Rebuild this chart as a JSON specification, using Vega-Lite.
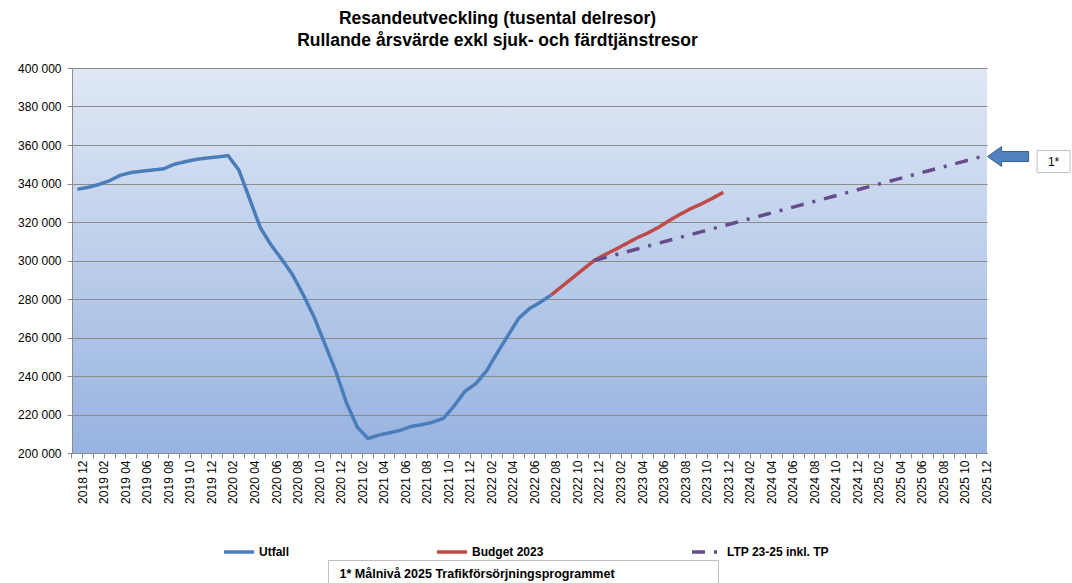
{
  "$schema": "https://vega.github.io/schema/vega-lite/v6.json",
  "width": 915,
  "height": 385,
  "autosize": {"type": "none"},
  "padding": {"left": 72, "top": 68, "right": 85, "bottom": 130},
  "background": "white",
  "title": {
    "text": ["Resandeutveckling (tusental delresor)", "Rullande årsvärde exkl sjuk- och färdtjänstresor"],
    "font": "Liberation Sans",
    "fontSize": 17.5,
    "fontWeight": "bold",
    "color": "#000000",
    "anchor": "middle",
    "dx": -32,
    "offset": 13,
    "lineHeight": 22
  },
  "config": {
    "font": "Liberation Sans",
    "view": {
      "stroke": null,
      "fill": {
        "gradient": "linear",
        "x1": 0, "y1": 0, "x2": 0, "y2": 1,
        "stops": [
          {"offset": 0, "color": "#e0e8f5"},
          {"offset": 1, "color": "#97b3e0"}
        ]
      }
    },
    "axis": {
      "labelFont": "Liberation Sans",
      "labelFontSize": 12,
      "labelColor": "#000000",
      "domainColor": "#8c8c8c",
      "tickColor": "#8c8c8c",
      "gridColor": "#8c8c8c",
      "gridWidth": 1.2,
      "tickSize": 5
    }
  },
  "datasets": {
    "lines": [
      {"month": "2018 12", "series": "Utfall", "value": 337000},
      {"month": "2019 01", "series": "Utfall", "value": 338000},
      {"month": "2019 02", "series": "Utfall", "value": 339500},
      {"month": "2019 03", "series": "Utfall", "value": 341500},
      {"month": "2019 04", "series": "Utfall", "value": 344300},
      {"month": "2019 05", "series": "Utfall", "value": 345700},
      {"month": "2019 06", "series": "Utfall", "value": 346400},
      {"month": "2019 07", "series": "Utfall", "value": 347000},
      {"month": "2019 08", "series": "Utfall", "value": 347600},
      {"month": "2019 09", "series": "Utfall", "value": 350000},
      {"month": "2019 10", "series": "Utfall", "value": 351300},
      {"month": "2019 11", "series": "Utfall", "value": 352500},
      {"month": "2019 12", "series": "Utfall", "value": 353200},
      {"month": "2020 01", "series": "Utfall", "value": 353800},
      {"month": "2020 02", "series": "Utfall", "value": 354500},
      {"month": "2020 03", "series": "Utfall", "value": 347000},
      {"month": "2020 04", "series": "Utfall", "value": 332000},
      {"month": "2020 05", "series": "Utfall", "value": 317000},
      {"month": "2020 06", "series": "Utfall", "value": 308000},
      {"month": "2020 07", "series": "Utfall", "value": 300500},
      {"month": "2020 08", "series": "Utfall", "value": 292500},
      {"month": "2020 09", "series": "Utfall", "value": 282000},
      {"month": "2020 10", "series": "Utfall", "value": 270500},
      {"month": "2020 11", "series": "Utfall", "value": 256500},
      {"month": "2020 12", "series": "Utfall", "value": 242500},
      {"month": "2021 01", "series": "Utfall", "value": 226000},
      {"month": "2021 02", "series": "Utfall", "value": 213500},
      {"month": "2021 03", "series": "Utfall", "value": 207500},
      {"month": "2021 04", "series": "Utfall", "value": 209300},
      {"month": "2021 05", "series": "Utfall", "value": 210500},
      {"month": "2021 06", "series": "Utfall", "value": 211800},
      {"month": "2021 07", "series": "Utfall", "value": 213800},
      {"month": "2021 08", "series": "Utfall", "value": 214700},
      {"month": "2021 09", "series": "Utfall", "value": 216000},
      {"month": "2021 10", "series": "Utfall", "value": 218000},
      {"month": "2021 11", "series": "Utfall", "value": 224500},
      {"month": "2021 12", "series": "Utfall", "value": 232000},
      {"month": "2022 01", "series": "Utfall", "value": 236000},
      {"month": "2022 02", "series": "Utfall", "value": 242500},
      {"month": "2022 03", "series": "Utfall", "value": 252000},
      {"month": "2022 04", "series": "Utfall", "value": 261000},
      {"month": "2022 05", "series": "Utfall", "value": 270000},
      {"month": "2022 06", "series": "Utfall", "value": 275000},
      {"month": "2022 07", "series": "Utfall", "value": 278300},
      {"month": "2022 08", "series": "Utfall", "value": 282000},
      {"month": "2022 08", "series": "Budget 2023", "value": 282000},
      {"month": "2022 09", "series": "Budget 2023", "value": 286500},
      {"month": "2022 10", "series": "Budget 2023", "value": 291000},
      {"month": "2022 11", "series": "Budget 2023", "value": 295500},
      {"month": "2022 12", "series": "Budget 2023", "value": 300000},
      {"month": "2023 01", "series": "Budget 2023", "value": 303000},
      {"month": "2023 02", "series": "Budget 2023", "value": 305800},
      {"month": "2023 03", "series": "Budget 2023", "value": 308800},
      {"month": "2023 04", "series": "Budget 2023", "value": 311800},
      {"month": "2023 05", "series": "Budget 2023", "value": 314300},
      {"month": "2023 06", "series": "Budget 2023", "value": 317300},
      {"month": "2023 07", "series": "Budget 2023", "value": 320800},
      {"month": "2023 08", "series": "Budget 2023", "value": 324000},
      {"month": "2023 09", "series": "Budget 2023", "value": 327000},
      {"month": "2023 10", "series": "Budget 2023", "value": 329500},
      {"month": "2023 11", "series": "Budget 2023", "value": 332300},
      {"month": "2023 12", "series": "Budget 2023", "value": 335500},
      {"month": "2022 12", "series": "LTP 23-25 inkl. TP", "value": 300000},
      {"month": "2023 01", "series": "LTP 23-25 inkl. TP", "value": 301500},
      {"month": "2023 02", "series": "LTP 23-25 inkl. TP", "value": 303000},
      {"month": "2023 03", "series": "LTP 23-25 inkl. TP", "value": 304500},
      {"month": "2023 04", "series": "LTP 23-25 inkl. TP", "value": 306000},
      {"month": "2023 05", "series": "LTP 23-25 inkl. TP", "value": 307500},
      {"month": "2023 06", "series": "LTP 23-25 inkl. TP", "value": 309000},
      {"month": "2023 07", "series": "LTP 23-25 inkl. TP", "value": 310500},
      {"month": "2023 08", "series": "LTP 23-25 inkl. TP", "value": 312000},
      {"month": "2023 09", "series": "LTP 23-25 inkl. TP", "value": 313500},
      {"month": "2023 10", "series": "LTP 23-25 inkl. TP", "value": 315000},
      {"month": "2023 11", "series": "LTP 23-25 inkl. TP", "value": 316500},
      {"month": "2023 12", "series": "LTP 23-25 inkl. TP", "value": 318000},
      {"month": "2024 01", "series": "LTP 23-25 inkl. TP", "value": 319500},
      {"month": "2024 02", "series": "LTP 23-25 inkl. TP", "value": 321000},
      {"month": "2024 03", "series": "LTP 23-25 inkl. TP", "value": 322500},
      {"month": "2024 04", "series": "LTP 23-25 inkl. TP", "value": 324000},
      {"month": "2024 05", "series": "LTP 23-25 inkl. TP", "value": 325500},
      {"month": "2024 06", "series": "LTP 23-25 inkl. TP", "value": 327000},
      {"month": "2024 07", "series": "LTP 23-25 inkl. TP", "value": 328500},
      {"month": "2024 08", "series": "LTP 23-25 inkl. TP", "value": 330000},
      {"month": "2024 09", "series": "LTP 23-25 inkl. TP", "value": 331500},
      {"month": "2024 10", "series": "LTP 23-25 inkl. TP", "value": 333000},
      {"month": "2024 11", "series": "LTP 23-25 inkl. TP", "value": 334500},
      {"month": "2024 12", "series": "LTP 23-25 inkl. TP", "value": 336000},
      {"month": "2025 01", "series": "LTP 23-25 inkl. TP", "value": 337500},
      {"month": "2025 02", "series": "LTP 23-25 inkl. TP", "value": 339000},
      {"month": "2025 03", "series": "LTP 23-25 inkl. TP", "value": 340500},
      {"month": "2025 04", "series": "LTP 23-25 inkl. TP", "value": 342000},
      {"month": "2025 05", "series": "LTP 23-25 inkl. TP", "value": 343500},
      {"month": "2025 06", "series": "LTP 23-25 inkl. TP", "value": 345000},
      {"month": "2025 07", "series": "LTP 23-25 inkl. TP", "value": 346500},
      {"month": "2025 08", "series": "LTP 23-25 inkl. TP", "value": 348000},
      {"month": "2025 09", "series": "LTP 23-25 inkl. TP", "value": 349500},
      {"month": "2025 10", "series": "LTP 23-25 inkl. TP", "value": 351000},
      {"month": "2025 11", "series": "LTP 23-25 inkl. TP", "value": 352500},
      {"month": "2025 12", "series": "LTP 23-25 inkl. TP", "value": 354000}
    ],
    "annot": [
      {"month": "2025 12", "value": 354000, "label": "1*"}
    ],
    "notes": [
      {"month": "2025 12", "value": 354000, "note": "1* Målnivå 2025 Trafikförsörjningsprogrammet"},
      {"month": "2025 12", "value": 354000, "note": "\u00a0"}
    ]
  },
  "encoding": {
    "x": {
      "field": "month",
      "type": "ordinal",
      "bandPosition": 0.5,
      "scale": {"type": "band", "paddingInner": 0, "paddingOuter": 0},
      "axis": {
        "title": null,
        "labelAngle": -90,
        "labelExpr": "parseInt(slice(datum.label, 5)) % 2 == 0 ? datum.label : ''",
        "labelOverlap": false,
        "bandPosition": 0,
        "labelOffset": 5.4,
        "labelPadding": 2,
        "grid": false
      }
    },
    "y": {
      "field": "value",
      "type": "quantitative",
      "scale": {"domain": [200000, 400000], "nice": false, "zero": false},
      "axis": {
        "title": null,
        "values": [200000, 220000, 240000, 260000, 280000, 300000, 320000, 340000, 360000, 380000, 400000],
        "labelExpr": "replace(format(datum.value, ','), ',', ' ')",
        "labelPadding": 6,
        "grid": true
      }
    }
  },
  "layer": [
    {
      "data": {"name": "lines"},
      "mark": {"type": "line", "strokeWidth": 3.5, "strokeJoin": "round"},
      "encoding": {
        "color": {
          "field": "series",
          "type": "nominal",
          "scale": {
            "domain": ["Utfall", "Budget 2023", "LTP 23-25 inkl. TP"],
            "range": ["#4a7ebb", "#be4b48", "#664d8a"]
          },
          "legend": {
            "title": null,
            "orient": "none",
            "legendX": 150,
            "legendY": 467,
            "direction": "horizontal",
            "columns": 3,
            "columnPadding": 141,
            "padding": 0,
            "symbolType": "stroke",
            "symbolSize": 900,
            "symbolStrokeWidth": 3.5,
            "labelFont": "Liberation Sans",
            "labelFontSize": 12,
            "labelFontWeight": "bold",
            "labelColor": "#000000",
            "labelOffset": 3,
            "labelLimit": 300
          }
        },
        "strokeDash": {
          "field": "series",
          "type": "nominal",
          "scale": {
            "domain": ["Utfall", "Budget 2023", "LTP 23-25 inkl. TP"],
            "range": [[1, 0], [1, 0], [13, 9, 3, 9]]
          },
          "legend": null
        }
      }
    },
    {
      "data": {"name": "annot"},
      "mark": {
        "type": "point",
        "shape": "M0,0 L0.7,-0.5 L0.7,-0.25 L2.05,-0.25 L2.05,0.25 L0.7,0.25 L0.7,0.5 Z",
        "size": 1600,
        "filled": true,
        "fill": "#4f81bd",
        "stroke": "#385d8a",
        "strokeWidth": 1,
        "opacity": 1,
        "xOffset": 6
      }
    },
    {
      "data": {"name": "annot"},
      "mark": {
        "type": "point",
        "shape": "M-0.825,-0.55 L0.825,-0.55 L0.825,0.55 L-0.825,0.55 Z",
        "size": 1600,
        "filled": true,
        "fill": "#ffffff",
        "stroke": "#bfbfbf",
        "strokeWidth": 1,
        "opacity": 1,
        "xOffset": 72,
        "yOffset": 5
      }
    },
    {
      "data": {"name": "annot"},
      "mark": {
        "type": "text",
        "font": "Liberation Sans",
        "fontSize": 12,
        "color": "#000000",
        "align": "center",
        "baseline": "middle",
        "xOffset": 72,
        "yOffset": 5
      },
      "encoding": {"text": {"field": "label"}}
    },
    {
      "data": {"name": "notes"},
      "mark": {"type": "point", "opacity": 0},
      "encoding": {
        "shape": {
          "field": "note",
          "type": "nominal",
          "scale": {"domain": ["1* Målnivå 2025 Trafikförsörjningsprogrammet", "\u00a0"]},
          "legend": {
            "title": null,
            "orient": "none",
            "legendX": 256,
            "legendY": 492,
            "direction": "horizontal",
            "columns": 2,
            "columnPadding": 88,
            "padding": 8,
            "strokeColor": "#bfbfbf",
            "fillColor": "#ffffff",
            "symbolSize": 1,
            "symbolOpacity": 0,
            "labelOffset": -9,
            "labelFont": "Liberation Sans",
            "labelFontSize": 12.5,
            "labelFontWeight": "bold",
            "labelColor": "#000000",
            "labelLimit": 500
          }
        }
      }
    }
  ]
}
